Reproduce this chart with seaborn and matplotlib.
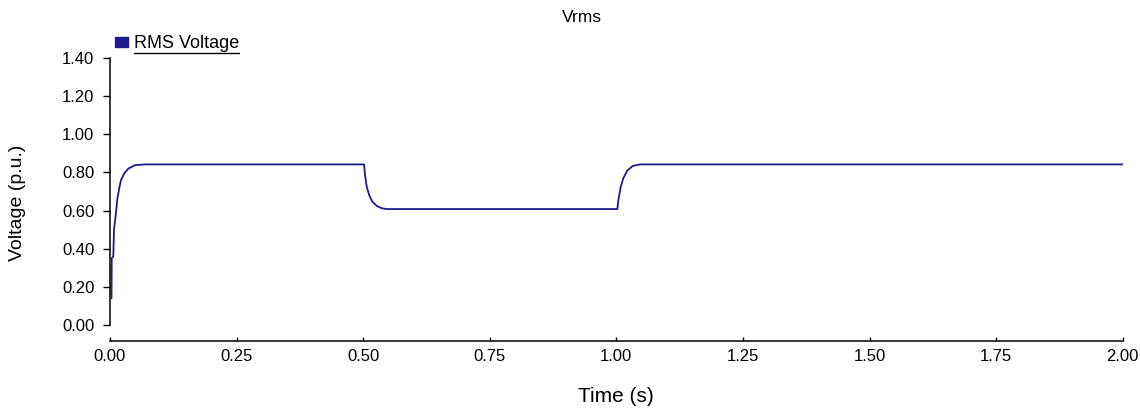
import matplotlib
matplotlib.use("Agg")
import matplotlib.pyplot as plt
from matplotlib.lines import Line2D
from matplotlib.patches import Patch
import pandas as pd
import seaborn as sns

# RMS voltage trace (time in s, voltage in p.u.)
time_s = [
    0.0030, 0.0034, 0.0065, 0.0079, 0.0119, 0.0144, 0.0184, 0.0217, 0.0282,
    0.0361, 0.0494, 0.0700,
    0.5017, 0.5036, 0.5070, 0.5120, 0.5180, 0.5270, 0.5370, 0.5465,
    1.0020, 1.0040, 1.0087, 1.0138, 1.0217, 1.0324, 1.0468,
    2.0000,
]
vrms_pu = [
    0.14, 0.35, 0.36, 0.50, 0.59, 0.66, 0.72, 0.76, 0.795,
    0.82, 0.838, 0.842,
    0.842, 0.787, 0.725, 0.680, 0.647, 0.624, 0.612, 0.608,
    0.608, 0.655, 0.725, 0.770, 0.810, 0.834, 0.842,
    0.842,
]
x_ticks = [0.0, 0.25, 0.5, 0.75, 1.0, 1.25, 1.5, 1.75, 2.0]
y_ticks = [0.0, 0.2, 0.4, 0.6, 0.8, 1.0, 1.2, 1.4]

NAVY = "#1c1c8c"
W, H = 1140, 409

sns.set_style("ticks")
plt.rcParams["font.family"] = ["Liberation Sans", "DejaVu Sans"]
plt.rcParams["text.color"] = "black"
plt.rcParams["axes.labelcolor"] = "black"

fig = plt.figure(figsize=(W / 100, H / 100), dpi=100)
ax = fig.add_axes([110 / W, 84 / H, 1012.7 / W, 267 / H])

df = pd.DataFrame({"time": time_s, "vrms": vrms_pu})
sns.lineplot(data=df, x="time", y="vrms", ax=ax, color=NAVY, lw=1.3,
             sort=False, estimator=None)

ax.set_xlim(0, 2)
ax.set_ylim(0, 1.4)
ax.set_xticks(x_ticks)
ax.set_yticks(y_ticks)
ax.xaxis.set_major_formatter(matplotlib.ticker.FormatStrFormatter("%.2f"))
ax.yaxis.set_major_formatter(matplotlib.ticker.FormatStrFormatter("%.2f"))

for s in ("top", "right"):
    ax.spines[s].set_visible(False)
ax.spines["bottom"].set_position(("outward", 11.5))
for s in ("left", "bottom"):
    ax.spines[s].set_linewidth(1.1)
    ax.spines[s].set_color("black")

ax.tick_params(axis="x", direction="in", length=3, width=1, pad=6,
               labelsize=12, colors="black")
ax.tick_params(axis="y", direction="out", length=5.3, width=1, pad=6,
               labelsize=12, colors="black")

ax.set_xlabel("Time (s)", fontsize=15, va="center")
ax.xaxis.set_label_coords(0.5, (325 - 397) / 267)
ax.set_ylabel("Voltage (p.u.)", fontsize=14, va="center")
ax.yaxis.set_label_coords((18 - 110) / 1012.7, (325 - 203) / 267)

fig.text(582 / W, 1 - 17 / H, "Vrms", ha="center", va="center", fontsize=12.5)

leg = ax.legend(
    handles=[Patch(facecolor=NAVY, edgecolor=NAVY, label="RMS Voltage")],
    loc="center left", bbox_to_anchor=(115 / W, 1 - 44 / H),
    bbox_transform=fig.transFigure, frameon=False, fontsize=13,
    handlelength=0.7, handleheight=0.45, handletextpad=0.35,
    borderpad=0, borderaxespad=0,
)

# underline the legend entry
fig.canvas.draw()
bb = leg.get_texts()[0].get_window_extent(fig.canvas.get_renderer())
bb = bb.transformed(fig.transFigure.inverted())
fig.add_artist(Line2D([bb.x0, bb.x1], [bb.y0, bb.y0], color="black", lw=1,
                      transform=fig.transFigure))

fig.savefig("out.png", dpi=100)
